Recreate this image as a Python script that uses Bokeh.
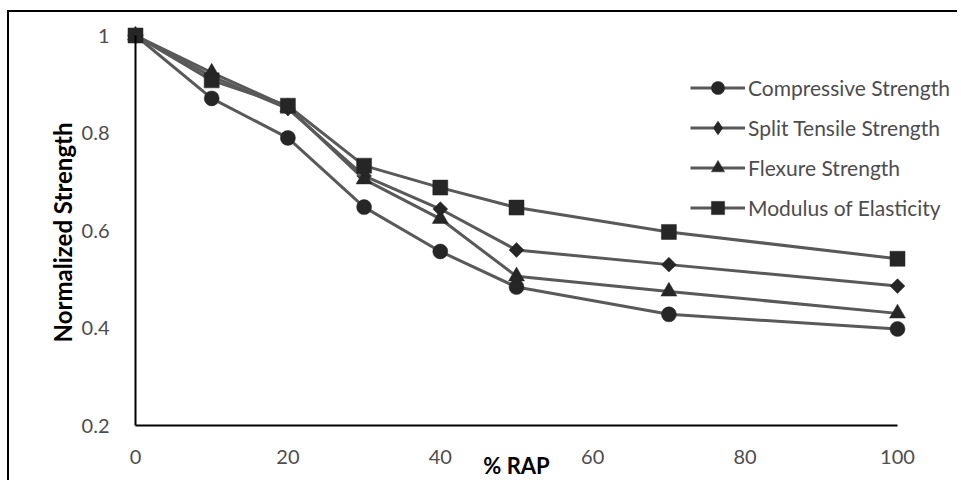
import math
from bokeh.plotting import figure
from bokeh.models import (Range1d, FixedTicker, PrintfTickFormatter, Legend, LegendItem, Label)
from bokeh.embed import file_html
from bokeh.resources import INLINE

# ---- data ----
rap = [0, 10, 20, 30, 40, 50, 70, 100]
compressive = [1.0, 0.871, 0.790, 0.648, 0.557, 0.484, 0.428, 0.398]
split_tensile = [1.0, 0.916, 0.850, 0.712, 0.644, 0.560, 0.530, 0.486]
flexure = [1.0, 0.924, 0.853, 0.705, 0.624, 0.506, 0.475, 0.430]
modulus = [1.0, 0.908, 0.856, 0.733, 0.688, 0.647, 0.597, 0.542]
series_names = ["Compressive Strength", "Split Tensile Strength", "Flexure Strength", "Modulus of Elasticity"]
series_markers = ["circle", "square", "triangle", "square"]
legend_markers = ["circle", "diamond", "triangle", "square"]
series_angles = [0, math.pi / 4, 0, 0]
series_sizes = [15, 10.5, 16, 15]
x_ticks = [0, 20, 40, 60, 80, 100]
y_ticks = [0.2, 0.4, 0.6, 0.8, 1.0]
x_title = "% RAP"
y_title = "Normalized Strength"

FONT = "Lato"
LINE = "#595959"
MARK = "#262626"
TXT = "#4d4d4d"

W, H = 950, 470
p = figure(width=W, height=H, output_backend="svg", toolbar_location=None,
           x_range=Range1d(-16.535, 108.136), y_range=Range1d(0.08308, 1.04718),
           min_border_left=0, min_border_right=0, min_border_top=0, min_border_bottom=0)
p.styles = {"border-top": "2px solid black", "border-left": "2px solid black",
            "margin-top": "10px", "margin-left": "7px"}
p.outline_line_color = None
p.xgrid.visible = False
p.ygrid.visible = False
p.background_fill_color = "white"
p.border_fill_color = "white"

for ax in (p.xaxis[0], p.yaxis[0]):
    ax.axis_line_color = "black"
    ax.axis_line_width = 2
    ax.major_tick_line_color = None
    ax.minor_tick_line_color = None
    ax.major_label_text_font = FONT
    ax.major_label_text_font_size = "20px"
    ax.major_label_text_color = TXT

p.xaxis.ticker = FixedTicker(ticks=x_ticks)
p.xaxis.bounds = (0, 100)
p.xaxis.fixed_location = 0.2
p.xaxis.major_label_standoff = 18
p.yaxis.ticker = FixedTicker(ticks=y_ticks)
p.yaxis.formatter = PrintfTickFormatter(format="%g")
p.yaxis.bounds = (0.2, 1.0)
p.yaxis.fixed_location = 0
p.yaxis.major_label_standoff = 20

items = []
for name, ys, mk, lmk, ang, sz in zip(series_names, [compressive, split_tensile, flexure, modulus],
                                      series_markers, legend_markers, series_angles, series_sizes):
    l = p.line(rap, ys, line_color=LINE, line_width=3)
    s = p.scatter(rap, ys, marker=mk, size=sz, angle=ang,
                  fill_color=MARK, line_color=MARK, line_width=0.5)
    if lmk == mk:
        items.append(LegendItem(label=name, renderers=[l, s]))
    else:
        # legend-only glyph placed far outside the visible ranges, so only the legend shows it
        d = p.scatter(x=[-1000], y=[-1000], marker=lmk, size=sz, fill_color=MARK, line_color=MARK)
        items.append(LegendItem(label=name, renderers=[l, d]))

legend = Legend(items=items, location=(681, 258), glyph_width=55, glyph_height=33,
                label_height=33, spacing=7, padding=0, margin=0, label_standoff=3,
                border_line_color=None, background_fill_alpha=0,
                label_text_font=FONT, label_text_font_size="21px", label_text_color=TXT,
                label_text_baseline="middle")
p.add_layout(legend)

p.add_layout(Label(x=50, y=0.1179, text=x_title, text_font=FONT, text_font_size="22px",
                   text_font_style="bold", text_align="center", text_baseline="middle", text_color="black"))
p.add_layout(Label(x=-9.58, y=0.596, text=y_title, angle=math.pi / 2, text_font=FONT, text_font_size="24px",
                   text_font_style="bold", text_align="center", text_baseline="middle", text_color="black"))

open("out.html", "w").write(file_html(p, INLINE))
